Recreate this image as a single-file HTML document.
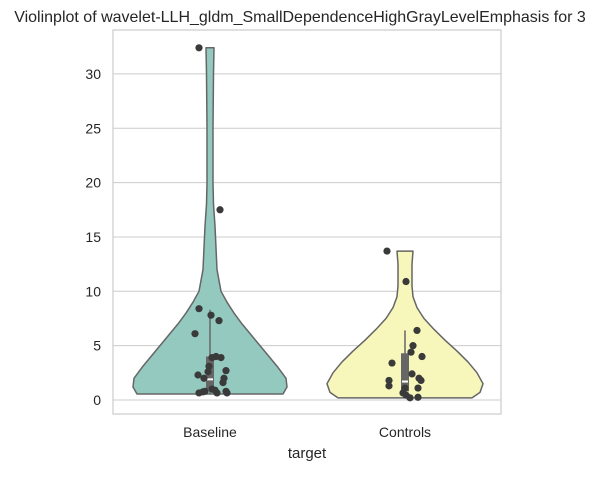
<!DOCTYPE html>
<html><head><meta charset="utf-8"><style>
body{margin:0;background:#fff;font-family:"Liberation Sans",sans-serif}
svg text{font-family:"Liberation Sans",sans-serif;fill:#262626}
</style></head><body>
<svg id="c" width="614" height="473"></svg>
<script>
const categories=["Baseline","Controls"];
const yTicks=[0,5,10,15,20,25,30];
const baselinePoints=[32.4,17.5,8.4,7.8,7.3,6.1,3.9,3.9,4.0,3.1,2.6,2.7,2.3,2.0,2.0,1.6,1.0,0.8,0.65,0.65,0.65,0.9,0.75,0.8];
const baselineJitter=[-11,10,-11,1,9,-15,2,11,6,-1,-2,16,-12,-6,14,13,2,-5,-11,7,17,5,-7,16];
const controlsPoints=[13.7,10.9,6.4,5.0,4.4,4.0,3.4,2.4,2.0,1.8,1.8,1.3,1.1,1.1,0.65,0.45,0.2,0.25];
const controlsJitter=[-18,1,12,8,6,17,-13,7,14,16,-16,-16,0,13,-2,1,5,13];
const baselineShapeV=[0.55,1.2,2,3,4,5,6,7,8,9,10,12,14,16,18,20,25,30,32.4];
const baselineShapeW=[73,77,76,68,59,50,41,32,24,17,11,7,6,5,3.5,3,3,3.5,4];
const controlsShapeV=[0.2,0.7,1.5,2.5,3.5,4.5,5.5,6.5,7.5,8.5,9.5,10.5,11.5,12.5,13.7];
const controlsShapeW=[67,75,78,72,63,52,40,29,19,12,8,7,7,7,8];
const boxes=[{lo:0.6,q1:1.0,med:1.9,q3:4.0,hi:8.3},{lo:0.2,q1:0.8,med:1.7,q3:4.3,hi:6.4}];
const fills=["#93c9bf","#f7f7bc"];
const svg=document.getElementById('c'),NS="http://www.w3.org/2000/svg";
const L=113,R=501,T=30,B=414;
const y=v=>400-v*10.87;
const xc=i=>210+i*195;
function el(t,a,p){const e=document.createElementNS(NS,t);for(const k in a)e.setAttribute(k,a[k]);(p||svg).appendChild(e);return e;}
yTicks.forEach(t=>{
 const g=el('line',{x1:L,x2:R,y1:y(t),y2:y(t),stroke:'#cccccc','stroke-width':1});
 
 
 const tx=el('text',{x:L-12,y:y(t)+5,'text-anchor':'end','font-size':14});tx.textContent=t;
 
 
});
const fr=el('rect',{x:L,y:T,width:R-L,height:B-T,fill:'none',stroke:'#cccccc','stroke-width':1.2});


[[baselineShapeV,baselineShapeW],[controlsShapeV,controlsShapeW]].forEach(([vs,ws],i)=>{
 let right=vs.map((v,k)=>[xc(i)+ws[k],y(v)]),left=vs.map((v,k)=>[xc(i)-ws[k],y(v)]).reverse();
 const pts=right.concat(left);
 let d="M"+(xc(i)-ws[0])+","+y(vs[0])+" "+pts.map(p=>"L"+p[0]+","+p[1]).join(" ")+"Z";
 const p=el('path',{d:d,fill:fills[i],stroke:'#666','stroke-width':1.5,'stroke-linejoin':'round'});
 
 
 const b=boxes[i];
 const w=el('line',{x1:xc(i),x2:xc(i),y1:y(b.hi),y2:y(b.lo),stroke:'#666','stroke-width':1.5});
 
 
 const bx=el('rect',{x:xc(i)-4,y:y(b.q3),width:8,height:y(b.q1)-y(b.q3),fill:'#666'});
 
 
 const m=el('line',{x1:xc(i)-3,x2:xc(i)+3,y1:y(b.med),y2:y(b.med),stroke:'#fff','stroke-width':2});
 
 
 const tx=el('text',{x:xc(i),y:437,'text-anchor':'middle','font-size':14});tx.textContent=categories[i];
 
 
});
[[baselinePoints,baselineJitter],[controlsPoints,controlsJitter]].forEach(([vs,js],i)=>{
 vs.forEach((v,k)=>{
  const c=el('circle',{cx:xc(i)+js[k],cy:y(v),r:3.6,fill:'#3a3a3a'});
  
  
 });
});
const xt=el('text',{x:307,y:458,'text-anchor':'middle','font-size':15});xt.textContent='target';


const tt=el('text',{x:300,y:22,'text-anchor':'middle','font-size':16});tt.textContent='Violinplot of wavelet-LLH_gldm_SmallDependenceHighGrayLevelEmphasis for 3';


</script>
</body></html>
